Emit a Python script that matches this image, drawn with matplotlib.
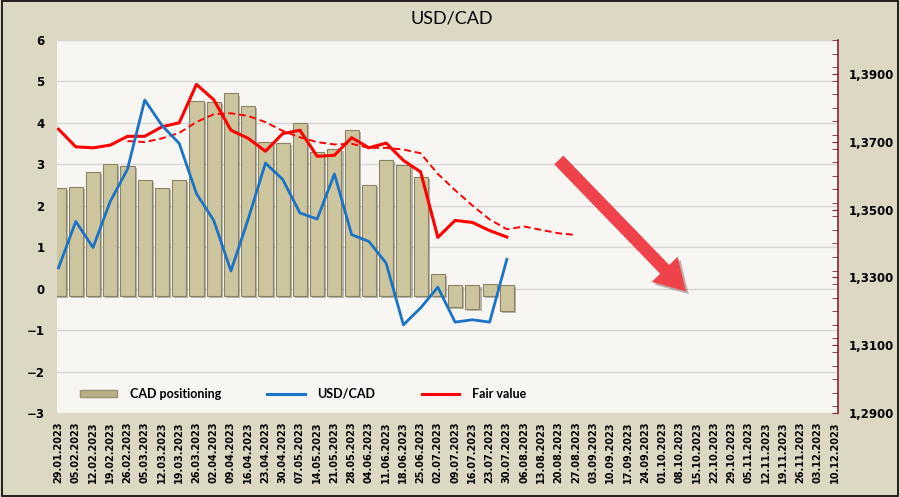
import numpy as np
import pandas as pd
import matplotlib
matplotlib.use("Agg")
import matplotlib.pyplot as plt
import matplotlib.patheffects as pe
from matplotlib.patches import Patch, Rectangle
from matplotlib.lines import Line2D
from matplotlib.ticker import MultipleLocator, FuncFormatter

# --- data ---
dates = pd.date_range("2023-01-29", "2023-12-10", freq="7D")
date_labels = [d.strftime("%d.%m.%Y") for d in dates]

# CAD positioning (left axis), weekly 29.01 - 30.07
cad_pos = [2.42, 2.45, 2.81, 3.01, 2.95, 2.63, 2.43, 2.63, 4.53, 4.51, 4.71, 4.40,
           3.55, 3.51, 4.00, 3.30, 3.37, 3.84, 2.51, 3.11, 2.99, 2.70, 0.35,
           -0.45, -0.48, 0.12, -0.53]

# USD/CAD spot (right axis)
usdcad = [1.3328, 1.3465, 1.3388, 1.3524, 1.3619, 1.3823, 1.3748, 1.3695, 1.3547,
          1.3468, 1.3319, 1.3472, 1.3637, 1.3589, 1.3490, 1.3472, 1.3605, 1.3426,
          1.3406, 1.3342, 1.3160, 1.3210, 1.3271, 1.3168, 1.3175, 1.3168, 1.3353]

# Fair value (right axis)
fair = [1.3737, 1.3685, 1.3682, 1.3690, 1.3716, 1.3716, 1.3744, 1.3756, 1.3869,
        1.3824, 1.3734, 1.3710, 1.3672, 1.3724, 1.3734, 1.3657, 1.3660, 1.3712,
        1.3682, 1.3696, 1.3645, 1.3611, 1.3418, 1.3468, 1.3462, 1.3438, 1.3419]

# smoothed fair value, starts at 26.02 and runs to 27.08
fair_trend_start = 4
fair_trend = [1.3702, 1.3699, 1.3710, 1.3726, 1.3758, 1.3781, 1.3784, 1.3776, 1.3758,
              1.3732, 1.3713, 1.3699, 1.3692, 1.3694, 1.3682, 1.3682, 1.3677, 1.3666,
              1.3605, 1.3557, 1.3512, 1.3471, 1.3442, 1.3450, 1.3440, 1.3430, 1.3425]

# --- style ---
BG = "#ddd8c4"
PLOT_BG = "#f7f6f2"
BAR = "#cdc59e"
BAR_EDGE = "#8a8464"
BLUE = "#1a73c6"
RED = "#ff0000"
AXIS_RED = "#8b2335"

fig = plt.figure(figsize=(9, 4.97), dpi=100, facecolor=BG)
ax = fig.add_axes([0.0633, 0.169, 0.8677, 0.7505])
ax.set_facecolor(PLOT_BG)
fig.patches.append(Rectangle((0.002, 0.002), 0.996, 0.996, transform=fig.transFigure,
                             fill=False, edgecolor="black", linewidth=1.2))

x = np.arange(len(cad_pos))
vals = np.array(cad_pos)
base = np.where(vals >= 0, -0.18, 0.1)
bars = ax.bar(x, vals - base, bottom=base, width=0.82, color=BAR,
              edgecolor=BAR_EDGE, linewidth=0.8, zorder=3)
for b in bars:
    b.set_path_effects([pe.SimplePatchShadow(offset=(1.5, -1.5), alpha=0.35), pe.Normal()])

ax.set_xlim(-0.09, 45.2)
ax.set_ylim(-3, 6)
ax.set_yticks(range(-3, 7))
ax.grid(axis="y", color="#d6d6d6", linewidth=1, zorder=0)
ax.set_axisbelow(True)
ax.set_xticks(np.arange(len(dates)))
ax.set_xticklabels(date_labels, rotation=90, fontsize=7, fontweight="bold")
ax.tick_params(axis="x", length=0, pad=6)
ax.tick_params(axis="y", length=0, pad=9, labelsize=8.5)
for lbl in ax.get_yticklabels():
    lbl.set_fontweight("bold")
for s in ax.spines.values():
    s.set_visible(False)

ax2 = ax.twinx()
ax2.set_ylim(1.29, 1.40)
ax2.yaxis.set_minor_locator(MultipleLocator(0.004))
ax2.set_yticks(np.arange(1.29, 1.3901, 0.02))
ax2.yaxis.set_major_formatter(FuncFormatter(lambda v, p: f"{v:.4f}".replace(".", ",")))
ax2.tick_params(axis="y", which="both", direction="in", color=AXIS_RED, labelsize=8.5,
                pad=8, length=4)
for lbl in ax2.get_yticklabels():
    lbl.set_fontweight("bold")
for name, s in ax2.spines.items():
    s.set_visible(name == "right")
ax2.spines["right"].set_color(AXIS_RED)
ax2.spines["right"].set_linewidth(1.2)

xl = np.arange(len(usdcad))
ax2.plot(xl, fair, color=RED, linewidth=2.2, zorder=4)
ax2.plot(np.arange(fair_trend_start, fair_trend_start + len(fair_trend)), fair_trend,
         color=RED, linewidth=1.4, linestyle=(0, (3.5, 2)), zorder=4)
ax2.plot(xl, usdcad, color=BLUE, linewidth=2.0, zorder=5)

# big red arrow pointing down
ax2.annotate("", xy=(36.5, 1.3253), xytext=(28.9, 1.3652),
             arrowprops=dict(arrowstyle="simple,head_width=1.3,head_length=1.1,tail_width=0.45",
                             fc="#f0424a", ec="none", mutation_scale=20,
                             path_effects=[pe.SimplePatchShadow(offset=(2, -2), alpha=0.3), pe.Normal()]))

fig.text(0.502, 1 - 18 / 497, "USD/CAD", ha="center", va="center", fontsize=13, family="Lato")

handles = [Patch(facecolor="#b9b186", edgecolor="#9a9270"),
           Line2D([], [], color=BLUE, linewidth=2.2),
           Line2D([], [], color=RED, linewidth=2.2)]
leg = ax2.legend(handles, ["CAD positioning", "USD/CAD", "Fair value"], ncol=3,
                 loc="center left", bbox_to_anchor=(0.015, 0.051), frameon=False,
                 prop={"family": "Lato", "weight": "bold", "size": 9},
                 handlelength=3.0, handleheight=0.45, handletextpad=1.0, columnspacing=3.7)

fig.savefig("out.png", dpi=100, facecolor=BG)
